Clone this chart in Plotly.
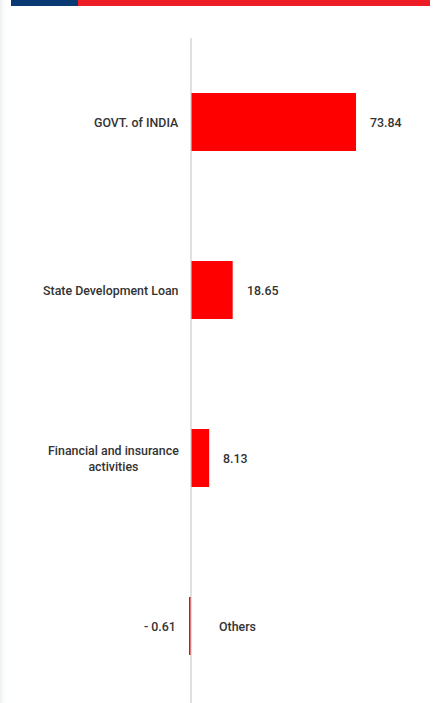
import plotly.graph_objects as go

# Sector allocation (% of portfolio)
categories = ["GOVT. of INDIA", "State Development Loan", "Financial and insurance<br>activities", "Others"]
values = [73.84, 18.65, 8.13, -0.61]
value_labels = ["73.84", "18.65", "8.13", "- 0.61"]

W, H = 435, 703
TOP = 38
px_per_unit = 2.235
zero_px = 191
x_range = [-zero_px / px_per_unit, (W - zero_px) / px_per_unit]
band = 168
y_bottom = -0.5 + (H - TOP) / band

font = dict(family="Roboto, Arial, sans-serif", size=12.4, color="#333333", weight=500)

fig = go.Figure()
fig.add_trace(go.Bar(
    x=values, y=categories, orientation="h",
    marker=dict(color="#ff0000", line=dict(width=0)),
    width=0.345, hoverinfo="skip",
))

annotations = []
for cat, v, lab in zip(categories, values, value_labels):
    if v >= 0:
        annotations.append(dict(x=0, y=cat, xref="x", yref="y", text=cat, showarrow=False,
                                xanchor="right", xshift=-10, align="center", font=font))
        annotations.append(dict(x=v, y=cat, xref="x", yref="y", text=lab, showarrow=False,
                                xanchor="left", xshift=12, font=font))
    else:
        annotations.append(dict(x=0, y=cat, xref="x", yref="y", text=cat, showarrow=False,
                                xanchor="left", xshift=26, align="center", font=font))
        annotations.append(dict(x=v, y=cat, xref="x", yref="y", text=lab, showarrow=False,
                                xanchor="right", xshift=-12, font=font))

plot_h = H - TOP


def py(p):
    return (H - p) / plot_h


shapes = [
    # header strip
    dict(type="rect", xref="paper", yref="paper", x0=11 / W, x1=78 / W, y0=py(6), y1=py(0),
         fillcolor="#0a3a73", line=dict(width=0), layer="above"),
    dict(type="rect", xref="paper", yref="paper", x0=78 / W, x1=430 / W, y0=py(6), y1=py(0),
         fillcolor="#ee1c25", line=dict(width=0), layer="above"),
    # axis line at zero
    dict(type="line", xref="x", yref="paper", x0=0, x1=0, y0=0, y1=1,
         line=dict(color="#cccccc", width=1.2), layer="above"),
]
# soft shadow along the left edge
for i, op in enumerate([0.10, 0.08, 0.06, 0.045, 0.03, 0.02, 0.012, 0.006]):
    shapes.append(dict(type="rect", xref="paper", yref="paper", x0=i / W, x1=(i + 1) / W,
                       y0=0, y1=py(0), fillcolor=f"rgba(110,130,130,{op})",
                       line=dict(width=0), layer="above"))

fig.update_layout(
    width=W, height=H,
    margin=dict(l=0, r=0, t=TOP, b=0),
    paper_bgcolor="white", plot_bgcolor="white",
    showlegend=False,
    xaxis=dict(range=x_range, showgrid=False, zeroline=False, showticklabels=False,
               showline=False, fixedrange=True),
    yaxis=dict(range=[y_bottom, -0.5], showgrid=False, zeroline=False, showticklabels=False,
               showline=False, fixedrange=True, categoryorder="array", categoryarray=categories),
    annotations=annotations,
    shapes=shapes,
)

fig.write_html("out.html")
